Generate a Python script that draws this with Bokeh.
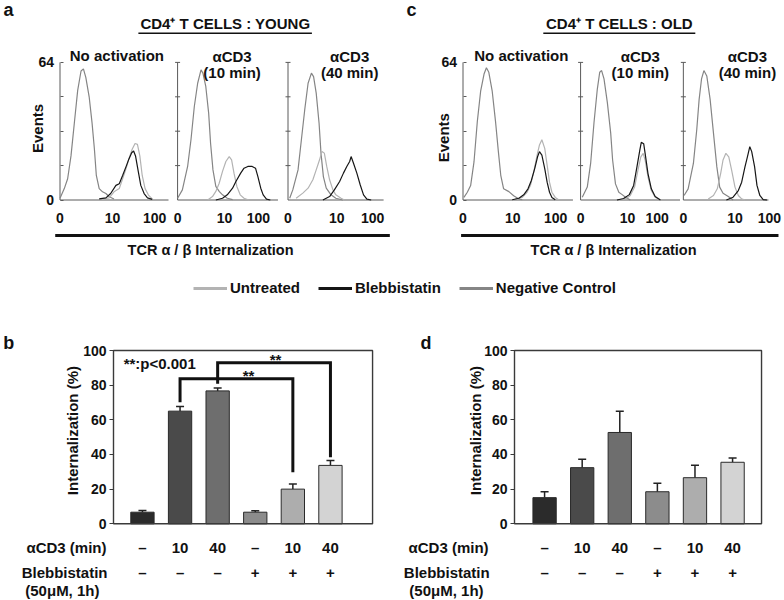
import math
from bokeh.plotting import figure
from bokeh.models import (Range1d, FixedTicker, Label, Arrow, LinearAxis, Legend,
                          LegendItem, ColumnDataSource, Whisker, TeeHead, BoxAnnotation)
from bokeh.layouts import column, row
from bokeh.embed import file_html
from bokeh.resources import INLINE
from bokeh.core.properties import value

# ---------------------------------------------------------------- data
# Histograms: x in decade units measured from each sub-plot's own axis
# (tick "0" = 0), y = events (axis 0..64)
YOUNG_NOACT_NEG = ([0, 0.09, 0.16, 0.23, 0.30, 0.37, 0.44, 0.49, 0.54, 0.61, 0.67, 0.72, 0.76, 0.82, 0.89, 0.96, 1.03, 1.13],
                   [0.8, 5.3, 9.9, 20.5, 35.8, 51, 60, 61, 57, 48, 36, 23.6, 11.4, 5.3, 3.8, 3.0, 1.5, 0.5])
YOUNG_NOACT_UNT = ([0.89, 1.03, 1.13, 1.24, 1.31, 1.38, 1.44, 1.51, 1.57, 1.62, 1.67, 1.72, 1.78, 1.85, 1.93],
                   [0.5, 1, 3.8, 5.3, 9.9, 14.5, 19, 23.6, 26.3, 25.9, 20.5, 11.4, 5.3, 2.3, 0.5])
YOUNG_NOACT_BLEB = ([0.82, 0.96, 1.06, 1.17, 1.24, 1.31, 1.39, 1.44, 1.5, 1.54, 1.58, 1.64, 1.69, 1.76, 1.83, 1.93],
                    [0.5, 1, 3, 6.8, 7.6, 11.4, 16, 19, 22, 22.8, 20.5, 13, 6.8, 3, 1, 0.3])

YOUNG_10_NEG = ([0, 0.1, 0.21, 0.28, 0.35, 0.42, 0.49, 0.53, 0.59, 0.65, 0.69, 0.74, 0.8, 0.87, 0.94, 1.04, 1.15],
                [0.8, 4.7, 15.6, 28, 43.5, 54.3, 60.5, 59, 52.8, 40.4, 26.4, 14, 6.3, 4, 2.4, 0.8, 0.2])
YOUNG_10_UNT = ([0.63, 0.73, 0.8, 0.87, 0.94, 1.01, 1.08, 1.13, 1.18, 1.24, 1.31, 1.39, 1.49],
                [0, 1.6, 4, 7.8, 13.3, 17.9, 20.2, 18.7, 12.5, 6.3, 2.4, 0.8, 0])
YOUNG_10_BLEB = ([0.8, 0.94, 1.04, 1.15, 1.22, 1.32, 1.39, 1.47, 1.56, 1.63, 1.68, 1.74, 1.79, 1.86, 1.94],
                 [0, 0.8, 2.4, 5.5, 8.6, 12.5, 14.8, 15.6, 15.6, 14.8, 10.9, 5.5, 2.4, 0.4, 0])

YOUNG_40_NEG = ([0.035, 0.1, 0.21, 0.28, 0.35, 0.42, 0.49, 0.535, 0.59, 0.65, 0.69, 0.74, 0.8, 0.9, 1.0, 1.15],
                [0.8, 4.7, 14, 28, 42, 54.3, 59, 57.4, 49.7, 35.7, 21.8, 10.9, 5.5, 2.4, 0.8, 0])
YOUNG_40_UNT = ([0.17, 0.31, 0.42, 0.52, 0.59, 0.66, 0.71, 0.76, 0.81, 0.87, 0.94, 1.0, 1.11, 1.18],
                [0.8, 3.2, 5.5, 9.4, 14, 18.7, 22.6, 21.8, 15.6, 9.4, 4.7, 2.4, 0.8, 0])
YOUNG_40_BLEB = ([0.73, 0.87, 0.97, 1.08, 1.16, 1.23, 1.29, 1.32, 1.37, 1.44, 1.51, 1.58, 1.65, 1.74],
                 [0, 1.6, 4.7, 8.6, 12.5, 15.6, 17.9, 20.2, 17.1, 12.5, 7.1, 2.4, 0.4, 0])

OLD_NOACT_NEG = ([0.02, 0.09, 0.16, 0.23, 0.3, 0.37, 0.44, 0.49, 0.54, 0.61, 0.68, 0.74, 0.79, 0.85, 0.96, 1.06, 1.17, 1.24],
                 [1.2, 3.6, 6.7, 17.7, 36.6, 50.8, 58.6, 61.5, 59.4, 50.8, 36.6, 22.5, 11.5, 5.2, 3.9, 2, 0.5, 0.1])
OLD_NOACT_UNT = ([1.1, 1.24, 1.34, 1.41, 1.48, 1.55, 1.6, 1.65, 1.71, 1.76, 1.81, 1.86, 1.93, 2.0],
                 [0.5, 1.2, 3.6, 6.7, 13, 20.9, 25.6, 28, 24, 16.2, 8.3, 3.6, 1.2, 0.1])
OLD_NOACT_BLEB = ([1.03, 1.17, 1.27, 1.36, 1.43, 1.5, 1.56, 1.6, 1.65, 1.71, 1.76, 1.81, 1.86, 1.93],
                  [0.1, 0.8, 2.4, 5.2, 9.1, 14.6, 20.1, 22.5, 20.9, 14.6, 8.3, 3.6, 1.2, 0.1])

OLD_10_NEG = ([0.035, 0.14, 0.21, 0.28, 0.35, 0.4, 0.44, 0.49, 0.56, 0.63, 0.67, 0.73, 0.8, 0.87, 0.94, 1.04],
              [1.3, 6, 17, 35.8, 51.6, 59.4, 60.2, 56.3, 45.3, 31.1, 18.6, 7.5, 3.6, 2.5, 1.3, 0])
OLD_10_UNT = ([0.8, 0.94, 1.04, 1.13, 1.2, 1.26, 1.31, 1.35, 1.41, 1.48, 1.56, 1.67],
              [0, 0.5, 2.1, 6, 13.9, 20.1, 21.7, 18.6, 10.7, 4.4, 1.3, 0])
OLD_10_BLEB = ([0.76, 0.9, 1.02, 1.11, 1.18, 1.24, 1.27, 1.32, 1.35, 1.41, 1.48, 1.56, 1.67],
               [0, 0.7, 2.5, 6.8, 15.5, 23.3, 26.8, 26.2, 21.7, 12.3, 5.2, 1.6, 0])

OLD_40_NEG = ([0.015, 0.1, 0.21, 0.28, 0.33, 0.38, 0.43, 0.49, 0.56, 0.63, 0.7, 0.76, 0.83, 0.94, 1.04],
              [2.1, 5.2, 17, 32.7, 46.8, 56.3, 60.2, 57.7, 46.8, 31.1, 15.5, 6, 3.1, 1.6, 0])
OLD_40_UNT = ([0.52, 0.63, 0.71, 0.78, 0.83, 0.89, 0.95, 1.01, 1.08, 1.15, 1.22, 1.29],
              [0.5, 2.1, 5.2, 12.3, 18.6, 21.7, 20.1, 13.9, 6, 2.1, 0.5, 0])
OLD_40_BLEB = ([0.9, 1.04, 1.15, 1.22, 1.29, 1.34, 1.39, 1.43, 1.49, 1.54, 1.6, 1.67, 1.75],
               [0, 1.3, 4.4, 8.3, 15.5, 20.1, 24.8, 22.5, 15.5, 6.8, 2.1, 0.2, 0])

HIST_TICK_LABELS = ["0", "10", "100"]
YOUNG_TICK_POS = [[0, 1.1, 1.98], [0, 0.98, 1.69], [0, 1.02, 1.77]]
OLD_TICK_POS = [[0, 1.04, 1.94], [0, 0.98, 1.6], [0, 1.08, 1.8]]
EVENT_TICKS = [0, 64]
EVENT_MINOR = [16, 32, 48]
SUBPLOT_TITLES = [["No activation"], ["αCD3", "(10 min)"], ["αCD3", "(40 min)"]]
SERIES = ["Untreated", "Blebbistatin", "Negative Control"]

# Bar charts
ACD3_ROW = ["–", "10", "40", "–", "10", "40"]
BLEBB_ROW = ["–", "–", "–", "+", "+", "+"]
YOUNG_MEAN = [6.7, 65.0, 76.7, 6.7, 20.0, 33.7]
YOUNG_ERR = [1.0, 2.7, 1.6, 0.8, 3.0, 2.8]
OLD_MEAN = [15.1, 32.4, 52.7, 18.5, 26.6, 35.5]
OLD_ERR = [3.4, 4.9, 12.2, 4.9, 7.2, 2.5]
PCT_TICKS = [0, 20, 40, 60, 80, 100]

SIG_FROM = [2, 3]
SIG_TO = [5, 6]
SIG_TOP = [83.7, 92.9]
SIG_FROM_END = [70.2, 80.8]
SIG_TO_END = [29.8, 38.4]
SIG_TEXT = ["**", "**"]
SIG_TEXT_X = [3.82, 4.54]
PVAL_TEXT = "**:p<0.001"

# ---------------------------------------------------------------- style
FONT = "Liberation Sans"
NEG_COLOR = "#858585"
UNT_COLOR = "#b3b3b3"
BLEB_COLOR = "#161616"
BAR_COLORS = ["#2b2b2b", "#4a4a4a", "#6e6e6e", "#8c8c8c", "#adadad", "#d3d3d3"]
AXIS_GRAY = "#5a5a5a"
TXT = "#111111"

TOP_H, LEG_H, BOT_H = 272, 28, 300


def span_range(origin_val, origin_px, ppu, length_px):
    """Range whose value origin_val falls origin_px pixels from the start edge."""
    start = origin_val - origin_px / ppu
    return Range1d(start, start + length_px / ppu)


def add_label(p, x, y, text, size="15px", align="center", angle=0.0):
    p.add_layout(Label(x=x, y=y, text=text, text_font=FONT, text_font_style="bold",
                       text_font_size=size, text_align=align, text_baseline="middle",
                       angle=angle, text_color=TXT))


def add_hline(p, x0, x1, y, width):
    p.add_layout(Arrow(end=None, x_start=x0, y_start=y, x_end=x1, y_end=y,
                       line_width=width, line_color=TXT))


def style_axis_labels(ax, size):
    ax.major_label_text_font = FONT
    ax.major_label_text_font_style = "bold"
    ax.major_label_text_font_size = size
    ax.major_label_text_color = TXT


def bare_figure(width, height, xr, yr):
    p = figure(width=width, height=height, x_range=xr, y_range=yr,
               output_backend="svg", toolbar_location=None,
               x_axis_location=None, y_axis_location=None, min_border=0)
    p.outline_line_color = None
    p.grid.visible = False
    return p


def hist_figure(width, zero_px, offsets, spans, tick_pos, curves, txt):
    ppx, ppy = 47.8, 2.15
    p = bare_figure(width, TOP_H, span_range(0, zero_px, ppx, width),
                    span_range(0, TOP_H - 199.5, ppy, TOP_H))

    yax = LinearAxis(fixed_location=0,
                     ticker=FixedTicker(ticks=EVENT_TICKS, minor_ticks=EVENT_MINOR))
    yax.axis_line_color = None
    yax.major_tick_in, yax.major_tick_out = 3, 0
    yax.minor_tick_in, yax.minor_tick_out = 3, 0
    yax.major_tick_line_color = AXIS_GRAY
    yax.minor_tick_line_color = AXIS_GRAY
    yax.major_label_standoff = 6
    style_axis_labels(yax, "14px")
    p.add_layout(yax, "left")

    ticks, overrides = [], {}
    for o, tp in zip(offsets, tick_pos):
        for t, lab in zip(tp, HIST_TICK_LABELS):
            v = round(o + t, 3)
            ticks.append(v)
            overrides[v] = lab
    xax = LinearAxis(fixed_location=0, ticker=FixedTicker(ticks=ticks))
    xax.major_label_overrides = overrides
    xax.axis_line_color = None
    xax.major_tick_line_color = None
    xax.minor_tick_line_color = None
    xax.major_label_standoff = 7
    style_axis_labels(xax, "14px")
    p.add_layout(xax, "below")

    n = len(offsets)
    top = EVENT_TICKS[-1]
    p.segment(x0=offsets, y0=[0] * n, x1=offsets, y1=[top] * n,
              line_color=AXIS_GRAY, line_width=1)
    p.segment(x0=offsets, y0=[0] * n, x1=[o + s for o, s in zip(offsets, spans)],
              y1=[0] * n, line_color=AXIS_GRAY, line_width=1)
    inner_x = [o for o in offsets[1:] for _ in EVENT_MINOR + EVENT_TICKS[1:]]
    inner_y = [t for _ in offsets[1:] for t in EVENT_MINOR + EVENT_TICKS[1:]]
    p.scatter(x=inner_x, y=inner_y, marker="dash", size=5, line_color=AXIS_GRAY)

    for o, (neg, unt, bleb) in zip(offsets, curves):
        for (xs, ys), color in ((neg, NEG_COLOR), (unt, UNT_COLOR), (bleb, BLEB_COLOR)):
            p.line([o + x for x in xs], ys, line_color=color, line_width=1.2)

    add_label(p, txt["letter_x"], 88.6, txt["letter"], size="18px", align="left")
    add_label(p, txt["title_x"], 82.3, txt["title"])
    add_hline(p, txt["ul"][0], txt["ul"][1], 77.6, 1.5)
    for o, lines, cx in zip(offsets, SUBPLOT_TITLES, txt["sub_x"]):
        if len(lines) == 1:
            add_label(p, o + cx, 67.0, lines[0])
        else:
            add_label(p, o + cx, 66.7, lines[0])
            add_label(p, o + cx, 59.3, lines[1])
    add_label(p, txt["events_x"], txt["events_y"], "Events", angle=math.pi / 2)
    add_hline(p, txt["line"][0], txt["line"][1], -16.5, 3)
    add_label(p, txt["xlabel_x"], -23.3, "TCR α / β Internalization", size="14.5px")
    return p


def bar_figure(width, box_px, xr, means, errs, txt, brackets=False):
    ppx, ppy = 37.6, 1.733
    p = bare_figure(width, BOT_H, span_range(xr[0], box_px, ppx, width),
                    span_range(0, BOT_H - 223.3, ppy, BOT_H))
    p.add_layout(BoxAnnotation(left=xr[0], right=xr[1], bottom=PCT_TICKS[0], top=PCT_TICKS[-1],
                               fill_alpha=0, line_color="#3a3a3a", line_alpha=1.0,
                               line_width=1.4))

    xs = list(range(1, len(means) + 1))
    src = ColumnDataSource(dict(x=xs, top=means,
                                upper=[m + e for m, e in zip(means, errs)],
                                color=BAR_COLORS))
    p.vbar(x="x", top="top", bottom=0, width=0.62, source=src, fill_color="color",
           line_color="#2a2a2a", line_width=1)
    p.add_layout(Whisker(source=src, base="x", lower="top", upper="upper",
                         line_color="#222222", line_width=1.5, lower_head=None,
                         upper_head=TeeHead(size=8, line_color="#222222", line_width=1.5)))

    yax = LinearAxis(fixed_location=xr[0], ticker=FixedTicker(ticks=PCT_TICKS))
    yax.axis_line_color = None
    yax.major_tick_in, yax.major_tick_out = 0, 4
    yax.minor_tick_line_color = None
    yax.major_tick_line_color = "#3a3a3a"
    yax.major_label_standoff = 3
    style_axis_labels(yax, "14px")
    p.add_layout(yax, "left")

    for labels, standoff in ((ACD3_ROW, 15), (BLEBB_ROW, 40)):
        ax = LinearAxis(fixed_location=0, ticker=FixedTicker(ticks=xs))
        ax.major_label_overrides = {x: lab for x, lab in zip(xs, labels)}
        ax.axis_line_color = None
        ax.major_tick_line_color = None
        ax.minor_tick_line_color = None
        ax.major_tick_in, ax.major_tick_out = 0, 0
        ax.major_label_standoff = standoff
        style_axis_labels(ax, "15px")
        p.add_layout(ax, "below")

    if brackets:
        bxs = [[a, a, b, b] for a, b in zip(SIG_FROM, SIG_TO)]
        bys = [[e1, t, t, e2] for e1, t, e2 in zip(SIG_FROM_END, SIG_TOP, SIG_TO_END)]
        p.multi_line(xs=bxs, ys=bys, line_color=TXT, line_width=3, line_join="miter")
        p.text(x=SIG_TEXT_X, y=[t + 1.9 for t in SIG_TOP], text=SIG_TEXT,
               text_font=value(FONT), text_font_style="bold", text_font_size="15px",
               text_align="center", text_baseline="middle", text_color=TXT)
        p.text(x=[0.5], y=[92.3], text=[PVAL_TEXT], text_font=value(FONT),
               text_font_style="bold", text_font_size="15px", text_align="left",
               text_baseline="middle", text_color=TXT)

    add_label(p, txt["ylabel_x"], 53.8, "Internalization (%)", angle=math.pi / 2)
    add_label(p, txt["letter_x"], 104.6, txt["letter"], size="18px", align="left")
    add_label(p, txt["h1_x"], -13.7, "αCD3 (min)", align="right")
    add_label(p, txt["h2_x"], -28.1, "Blebbistatin", align="right")
    add_label(p, txt["h3_x"], -38.6, "(50μM, 1h)")
    return p


fig_a = hist_figure(
    400, 59.5, [0, 2.46, 4.77], [2.27, 2.1, 2.0], YOUNG_TICK_POS,
    [(YOUNG_NOACT_NEG, YOUNG_NOACT_UNT, YOUNG_NOACT_BLEB),
     (YOUNG_10_NEG, YOUNG_10_UNT, YOUNG_10_BLEB),
     (YOUNG_40_NEG, YOUNG_40_UNT, YOUNG_40_BLEB)],
    dict(letter="a", letter_x=-1.18, title="CD4⁺ T CELLS : YOUNG", title_x=3.46,
         ul=(1.64, 5.27), sub_x=[1.19, 1.14, 1.29], events_x=-0.47, events_y=33.3,
         line=(-0.1, 6.9), xlabel_x=3.15))

fig_c = hist_figure(
    384, 62.5, [0, 2.46, 4.61], [2.3, 2.08, 1.78], OLD_TICK_POS,
    [(OLD_NOACT_NEG, OLD_NOACT_UNT, OLD_NOACT_BLEB),
     (OLD_10_NEG, OLD_10_UNT, OLD_10_BLEB),
     (OLD_40_NEG, OLD_40_UNT, OLD_40_BLEB)],
    dict(letter="c", letter_x=-1.18, title="CD4⁺ T CELLS : OLD", title_x=3.27,
         ul=(1.68, 4.86), sub_x=[1.22, 1.25, 1.34], events_x=-0.41, events_y=29.0,
         line=(-0.04, 6.6), xlabel_x=3.15))

# legend strip
leg = bare_figure(784, LEG_H, Range1d(0, 1), Range1d(0, 1))
items = []
for name, color in zip(SERIES, (UNT_COLOR, BLEB_COLOR, NEG_COLOR)):
    r = leg.line(x=[-5, -4], y=[-5, -5], line_color=color, line_width=3)
    items.append(LegendItem(label=name, renderers=[r]))
legend = Legend(items=items, orientation="horizontal", location=(193, 4),
                glyph_width=34, glyph_height=16, label_height=16, label_standoff=3,
                spacing=18, padding=2, margin=0, border_line_color=None,
                background_fill_alpha=0, label_text_font=FONT,
                label_text_font_style="bold", label_text_font_size="15px",
                label_text_color=TXT)
leg.add_layout(legend, "center")

fig_b = bar_figure(398, 113, (0.23, 7.12), YOUNG_MEAN, YOUNG_ERR,
                   dict(letter="b", letter_x=-2.7, ylabel_x=-0.86,
                        h1_x=0.044, h2_x=0.07, h3_x=-1.13), brackets=True)
fig_d = bar_figure(386, 116, (0.2, 6.77), OLD_MEAN, OLD_ERR,
                   dict(letter="d", letter_x=-2.3, ylabel_x=-0.84,
                        h1_x=-0.49, h2_x=-0.46, h3_x=-1.61))

layout = column(row(fig_a, fig_c), leg, row(fig_b, fig_d))
open("out.html", "w").write(file_html(layout, INLINE))
